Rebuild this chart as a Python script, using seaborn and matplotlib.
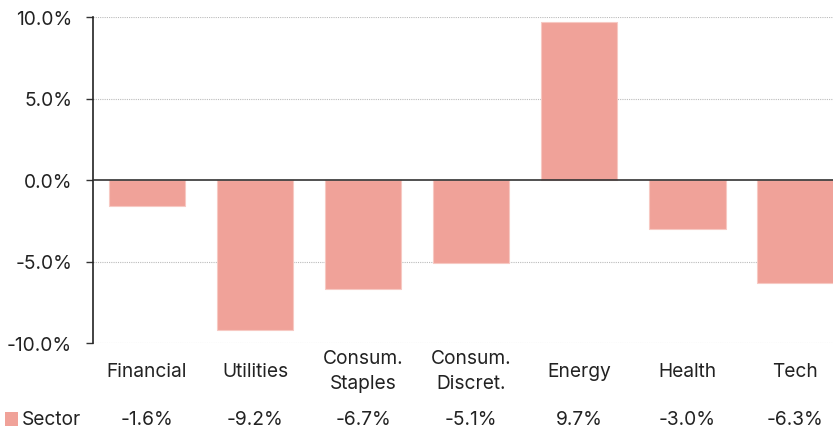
import matplotlib
matplotlib.use("Agg")
import matplotlib.pyplot as plt
import matplotlib.transforms as mtransforms
from matplotlib.patches import Rectangle
import seaborn as sns
import pandas as pd

categories = ["Financial", "Utilities", "Consum.\nStaples", "Consum.\nDiscret.", "Energy", "Health", "Tech"]
values = [-1.6, -9.2, -6.7, -5.1, 9.7, -3.0, -6.3]
value_labels = ["-1.6%", "-9.2%", "-6.7%", "-5.1%", "9.7%", "-3.0%", "-6.3%"]
yticks = [-10, -5, 0, 5, 10]
ytick_labels = ["-10.0%", "-5.0%", "0.0%", "5.0%", "10.0%"]
series_name = "Sector"

sns.set_theme(style="white")
plt.rcParams['font.family'] = ['Inter', 'DejaVu Sans']

W, H = 833, 431
fig = plt.figure(figsize=(W / 100, H / 100), dpi=100)
ax = fig.add_axes([93 / W, 1 - 344 / H, (833 - 93) / W, (344 - 18) / H])

color = "#F0A299"
df = pd.DataFrame({"cat": categories, "val": values})
sns.barplot(data=df, x="cat", y="val", color=color, saturation=1, width=0.71, ax=ax,
            edgecolor="#F7C9C3", linewidth=0.8)

fs = 13.8
tc = "#222222"
ax.set_xlim(-0.5, 6.35)
ax.set_ylim(-10, 10)
ax.set_yticks(yticks)
ax.set_yticklabels(ytick_labels, fontsize=fs, color=tc)
ax.set_xlabel("")
ax.set_ylabel("")
ax.set_xticks(range(len(categories)))
ax.set_xticklabels([])
ax.tick_params(axis="x", length=0)
ax.tick_params(axis="y", length=5, width=1, color="#333333", left=True, pad=10)

for y in yticks:
    if y != 0:
        ax.axhline(y, color="#bbbbbb", linestyle=(0, (1, 1)), linewidth=0.8, zorder=0)
ax.axhline(0, color="#333333", linewidth=1.2, zorder=3)

for s in ["top", "right", "bottom"]:
    ax.spines[s].set_visible(False)
ax.spines["left"].set_color("#222222")
ax.spines["left"].set_linewidth(1.2)

trans = mtransforms.blended_transform_factory(ax.transData, fig.transFigure)
ycat = 1 - 372 / H
yrow = 1 - 420 / H
for i, (cat, lab) in enumerate(zip(categories, value_labels)):
    ax.text(i, ycat, cat, transform=trans, ha="center", va="center", fontsize=fs,
            color=tc, linespacing=1.5, clip_on=False)
    ax.text(i, yrow, lab, transform=trans, ha="center", va="center", fontsize=fs,
            color=tc, clip_on=False)

fig.patches.append(Rectangle((5 / W, 1 - 427 / H), 13 / W, 14 / H, transform=fig.transFigure,
                             facecolor=color, edgecolor="none"))
fig.text(22 / W, yrow, series_name, ha="left", va="center", fontsize=fs, color=tc)

fig.savefig("out.png", dpi=100)
